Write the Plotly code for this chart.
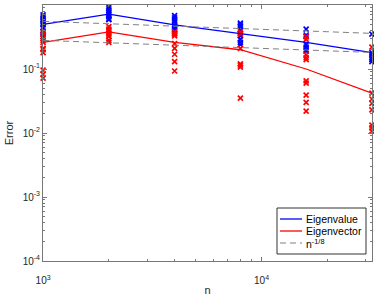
import plotly.graph_objects as go

# problem sizes
n = [1000, 2000, 4000, 8000, 16000, 32000]

# mean errors (lines)
eigval_line = [0.50, 0.72, 0.49, 0.36, 0.26, 0.18]
eigvec_line = [0.26, 0.38, 0.26, 0.20, 0.10, 0.042]

# individual trials (markers)
eigval_pts = {
    1000: [0.70, 0.65, 0.60, 0.56, 0.52, 0.49, 0.44, 0.39, 0.35, 0.32],
    2000: [0.93, 0.87, 0.81, 0.75, 0.70, 0.65, 0.60, 0.59],
    4000: [0.68, 0.63, 0.58, 0.54, 0.49, 0.46, 0.42, 0.39, 0.36],
    8000: [0.52, 0.49, 0.46, 0.41, 0.36, 0.33, 0.29, 0.26, 0.24],
    16000: [0.42, 0.34, 0.32, 0.24, 0.22, 0.20, 0.19],
    32000: [0.35, 0.18, 0.166, 0.15, 0.14, 0.13],
}
eigvec_pts = {
    1000: [0.38, 0.35, 0.30, 0.28, 0.26, 0.21, 0.20, 0.18, 0.096, 0.083, 0.072],
    2000: [0.46, 0.42, 0.39, 0.36, 0.34, 0.32, 0.28, 0.26],
    4000: [0.38, 0.35, 0.33, 0.25, 0.21, 0.17, 0.13, 0.093],
    8000: [0.38, 0.35, 0.21, 0.12, 0.115, 0.107, 0.035],
    16000: [0.32, 0.29, 0.166, 0.15, 0.14, 0.065, 0.060, 0.039, 0.030, 0.022],
    32000: [0.22, 0.042, 0.034, 0.029, 0.023, 0.0133, 0.012, 0.0107],
}

# reference slope n^(-1/8), two offsets
ref_upper_c = 1.318
ref_lower_c = 0.664
ref_upper = [ref_upper_c * v ** (-1 / 8) for v in n]
ref_lower = [ref_lower_c * v ** (-1 / 8) for v in n]

x_ticks = [1000, 10000]
x_ticktext = ["10<sup>3</sup>", "10<sup>4</sup>"]
y_ticks = [1e-4, 1e-3, 1e-2, 1e-1, 1]
y_ticktext = ["10<sup>-4</sup>", "10<sup>-3</sup>", "10<sup>-2</sup>", "10<sup>-1</sup>", "10<sup>0</sup>"]

legend_names = ["Eigenvalue", "Eigenvector", "n<sup>-1/8</sup>"]

BLUE = "#0000ff"
RED = "#ff0000"
GRAY = "#808080"
AX = "#777777"
TXT = "#262626"
DASH = "6px,4px"

W, H = 374, 298
ML, MR, MT, MB = 43, 2, 5, 37
PW, PH = W - ML - MR, H - MT - MB

fig = go.Figure()


def pts_trace(d, color):
    xs, ys = [], []
    for k, vals in d.items():
        xs += [k] * len(vals)
        ys += vals
    return go.Scatter(x=xs, y=ys, mode="markers", showlegend=False, cliponaxis=False,
                      marker=dict(symbol="x-thin-open", size=5, color=color,
                                  line=dict(width=1.7, color=color)),
                      hoverinfo="skip")


fig.add_trace(pts_trace(eigval_pts, BLUE))
fig.add_trace(pts_trace(eigvec_pts, RED))
fig.add_trace(go.Scatter(x=n, y=eigval_line, mode="lines", showlegend=False,
                         line=dict(color=BLUE, width=1.3)))
fig.add_trace(go.Scatter(x=n, y=eigvec_line, mode="lines", showlegend=False,
                         line=dict(color=RED, width=1.3)))
fig.add_trace(go.Scatter(x=n, y=ref_upper, mode="lines", showlegend=False,
                         line=dict(color=GRAY, width=1, dash=DASH)))
fig.add_trace(go.Scatter(x=n, y=ref_lower, mode="lines", showlegend=False,
                         line=dict(color=GRAY, width=1, dash=DASH)))

axis_common = dict(showline=True, linecolor=AX, linewidth=1, mirror="ticks",
                   ticks="inside", ticklen=4, tickcolor=AX, showgrid=False,
                   zeroline=False, automargin=False,
                   tickfont=dict(size=10, color=TXT))

fig.update_xaxes(type="log", range=[2.9996, 4.5056], tickvals=x_ticks, ticktext=x_ticktext,
                 ticklabelstandoff=10,
                 minor=dict(ticks="inside", ticklen=2, tickcolor=AX, dtick="D1",
                            showgrid=False),
                 title=dict(text="n", font=dict(size=11, color=TXT), standoff=1),
                 **axis_common)
fig.update_yaxes(type="log", range=[-4, 0], tickvals=y_ticks, ticktext=y_ticktext,
                 minor=dict(ticks="inside", ticklen=2, tickcolor=AX, dtick="D1",
                            showgrid=False),
                 title=dict(text="Error", font=dict(size=11, color=TXT), standoff=6),
                 **axis_common)


# hand-drawn legend box (MATLAB style, compact rows)
def px(xp):
    return (xp - ML) / PW


def py(yp):
    return (H - MB - yp) / PH


box = dict(x0=277, x1=366, y0=208, y1=254)
fig.add_shape(type="rect", xref="paper", yref="paper",
              x0=px(box["x0"]), x1=px(box["x1"]), y0=py(box["y1"]), y1=py(box["y0"]),
              line=dict(color="#333333", width=1), fillcolor="white", layer="above")
rows = [219, 231, 243]
styles = [dict(color=BLUE, width=1.3), dict(color=RED, width=1.3),
          dict(color=GRAY, width=1, dash=DASH)]
for name, yr, st in zip(legend_names, rows, styles):
    fig.add_shape(type="line", xref="paper", yref="paper",
                  x0=px(280), x1=px(302), y0=py(yr), y1=py(yr), line=st, layer="above")
    fig.add_annotation(xref="paper", yref="paper", x=px(304), y=py(yr),
                       xanchor="left", yanchor="middle", text=name, showarrow=False,
                       font=dict(size=10.5, color="#000000"))

fig.update_layout(
    width=W, height=H,
    margin=dict(l=ML, r=MR, t=MT, b=MB),
    paper_bgcolor="white", plot_bgcolor="white",
    font=dict(family="Liberation Sans, Arial, sans-serif", size=10, color=TXT),
    showlegend=False,
)

fig.write_html("out.html", config={"displayModeBar": False},
               post_script="document.body.style.margin='0';")
